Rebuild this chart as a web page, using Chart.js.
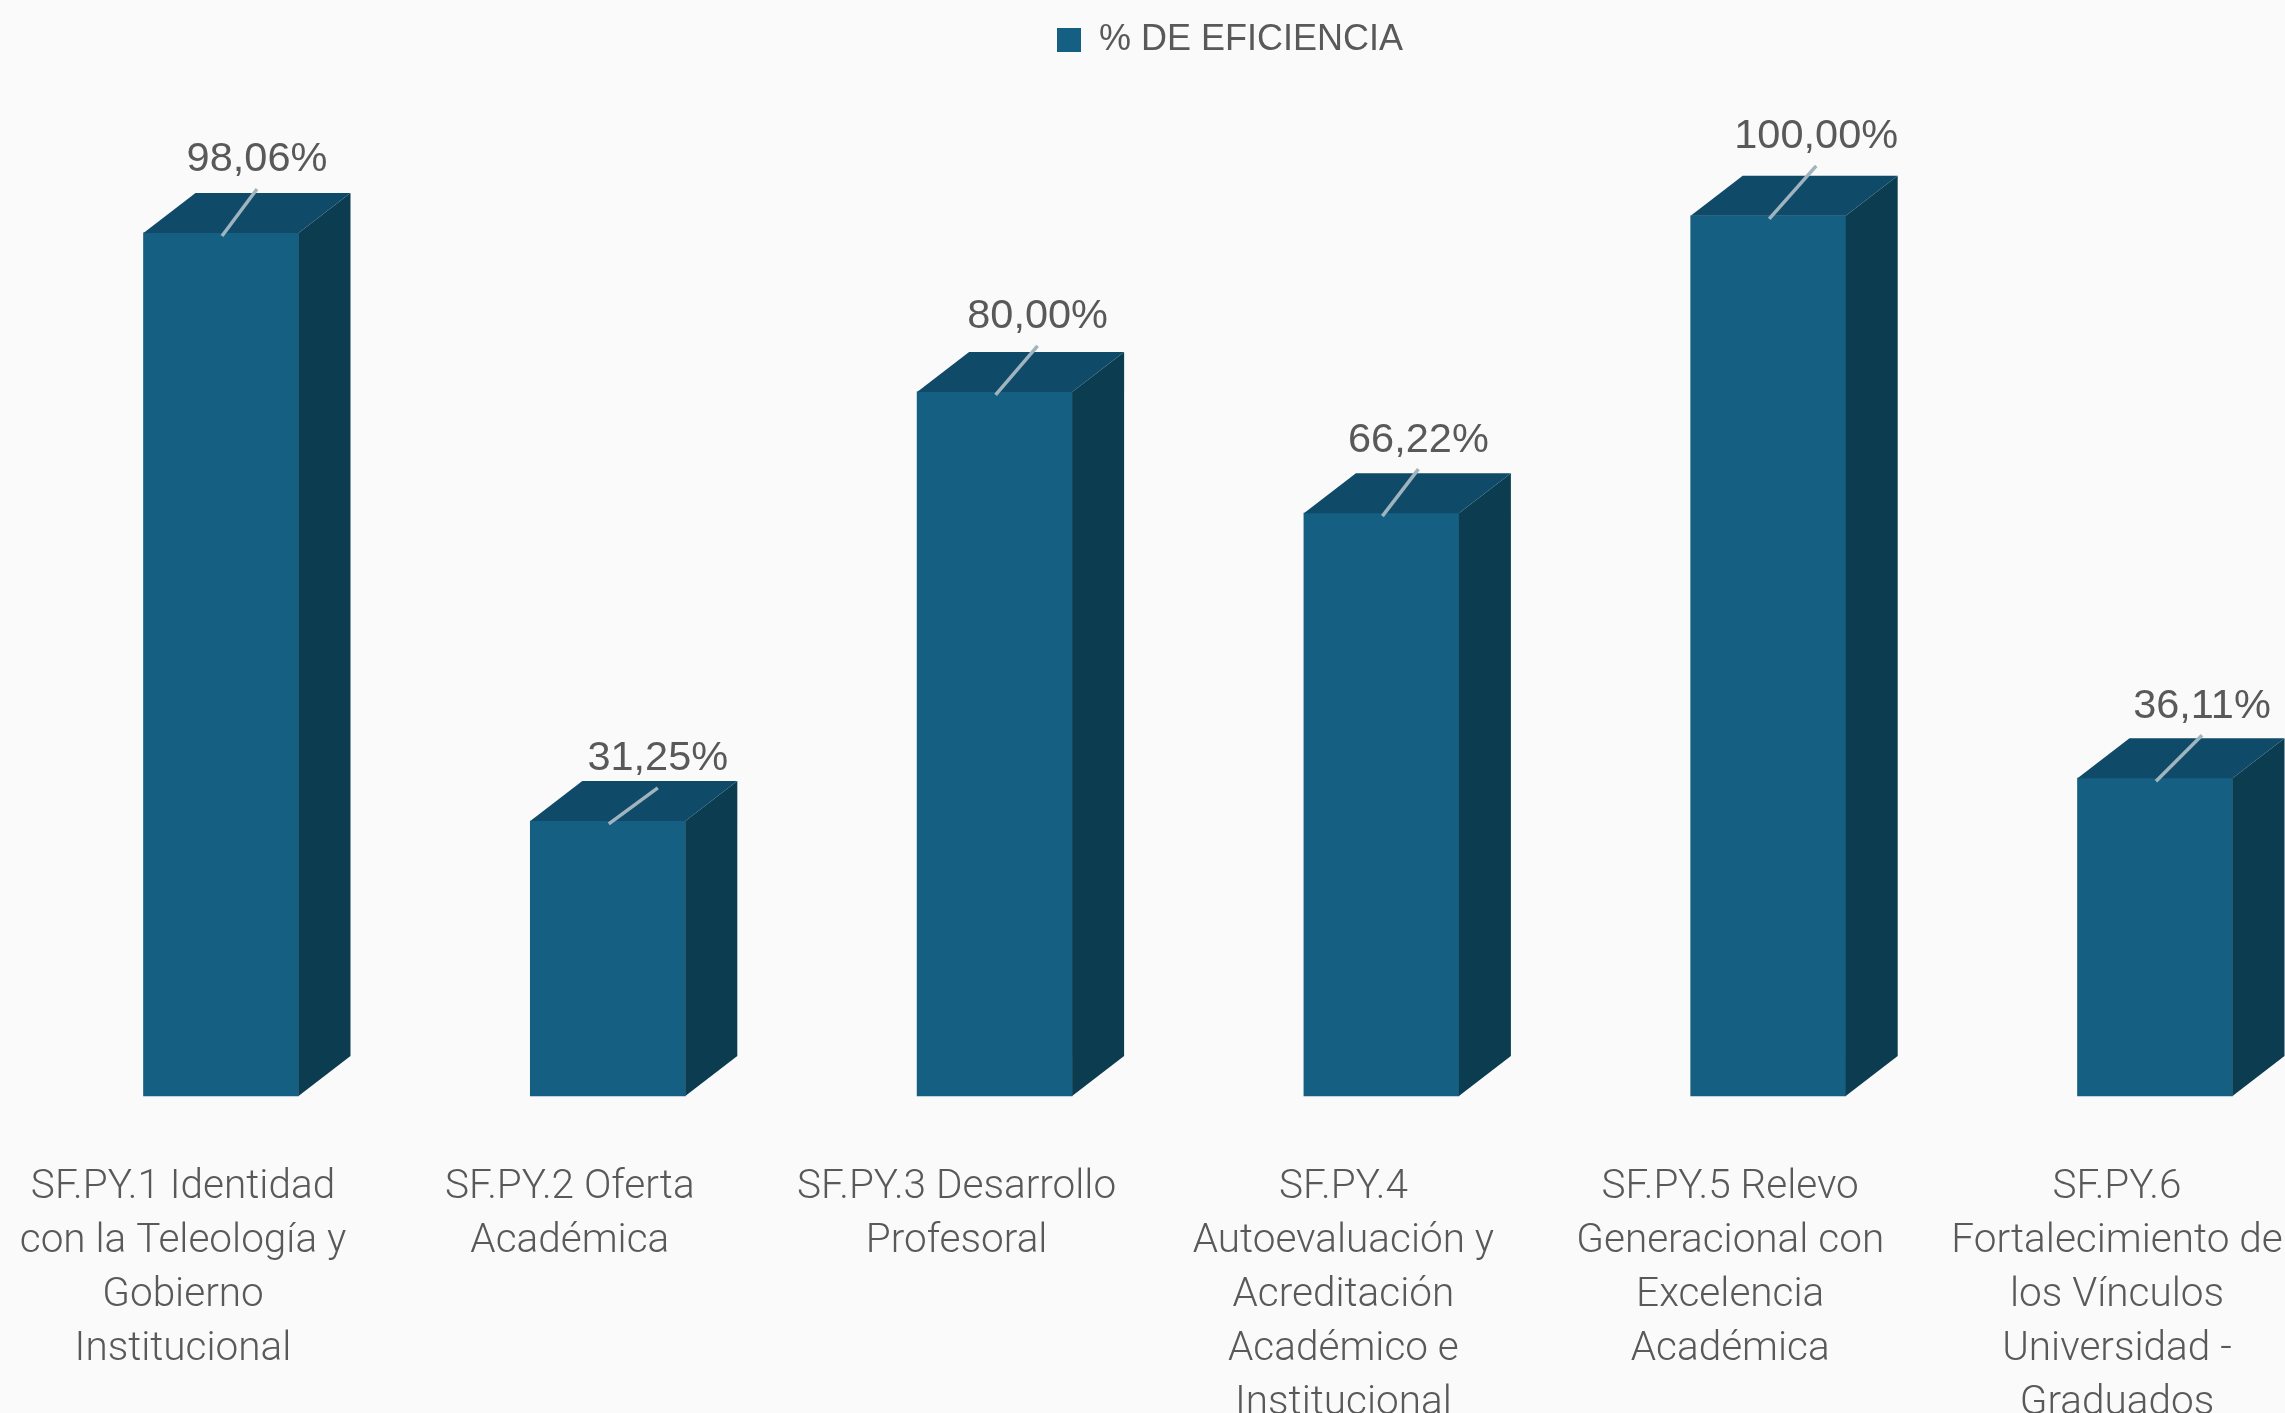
<!DOCTYPE html>
<html lang="es">
<head>
    <meta charset="UTF-8">
    <title>% de eficiencia</title>
    <script src="https://cdn.jsdelivr.net/npm/chart.js"></script>
    <style>
        html, body { margin: 0; padding: 0; background: #fafafa; overflow: hidden; }
        canvas { display: block; }
    </style>
</head>
<body>
    <canvas id="eficiencia" width="2285" height="1413"></canvas>

<script type="text/javascript">
    const categories = [
        ['SF.PY.1 Identidad', 'con la Teleología y', 'Gobierno', 'Institucional'],
        ['SF.PY.2 Oferta', 'Académica'],
        ['SF.PY.3 Desarrollo', 'Profesoral'],
        ['SF.PY.4', 'Autoevaluación y', 'Acreditación', 'Académico e', 'Institucional'],
        ['SF.PY.5 Relevo', 'Generacional con', 'Excelencia', 'Académica'],
        ['SF.PY.6', 'Fortalecimiento de', 'los Vínculos', 'Universidad -', 'Graduados']
    ];
    const seriesName = '% DE EFICIENCIA';
    const eficiencia = [98.06, 31.25, 80.00, 66.22, 100.00, 36.11];

    // the labels were moved by hand in the original, so each one has its own offset
    const labelDx = [36, 50, 43, 37, 48, 47];
    const labelDy = [-73, -62, -75, -73, -79, -72];

    const frontColor = '#156082';
    const topColor = '#0f4a68';
    const sideColor = '#0c3c50';
    const textColor = '#595959';
    const depthX = 52;
    const depthY = 40;

    function fillFace(ctx, pts, color) {
        ctx.fillStyle = color;
        ctx.beginPath();
        ctx.moveTo(pts[0][0], pts[0][1]);
        for (let i = 1; i < pts.length; i++) {
            ctx.lineTo(pts[i][0], pts[i][1]);
        }
        ctx.closePath();
        ctx.fill();
    }

    // side and top faces, leader lines and value labels
    const boxes3d = {
        id: 'boxes3d',
        afterDatasetsDraw(chart) {
            const ctx = chart.ctx;
            ctx.save();
            chart.getDatasetMeta(0).data.forEach((bar, i) => {
                const left = bar.x - bar.width / 2;
                const right = bar.x + bar.width / 2;
                fillFace(ctx, [[right, bar.y], [right + depthX, bar.y - depthY],
                    [right + depthX, bar.base - depthY], [right, bar.base]], sideColor);
                fillFace(ctx, [[left, bar.y], [left + depthX, bar.y - depthY],
                    [right + depthX, bar.y - depthY], [right, bar.y]], topColor);

                ctx.strokeStyle = '#9fb4be';
                ctx.lineWidth = 3.5;
                ctx.beginPath();
                ctx.moveTo(bar.x + 1, bar.y + 3);
                ctx.lineTo(bar.x + labelDx[i], bar.y + labelDy[i] + 29);
                ctx.stroke();

                ctx.fillStyle = textColor;
                ctx.font = '41.5px "Liberation Sans"';
                ctx.textAlign = 'center';
                ctx.textBaseline = 'middle';
                const txt = eficiencia[i].toFixed(2).replace('.', ',') + '%';
                ctx.fillText(txt, bar.x + labelDx[i], bar.y + labelDy[i]);
            });
            ctx.restore();
        },
        afterLayout(chart) {
            // legend sits right of centre in the original
            chart.legend.left += 42;
            chart.legend.right += 42;
        }
    };

    new Chart(document.getElementById('eficiencia').getContext('2d'), {
        type: 'bar',
        data: {
            labels: categories,
            datasets: [{
                label: seriesName,
                data: eficiencia,
                backgroundColor: frontColor,
                borderWidth: 0,
                barThickness: 155,
                clip: false
            }]
        },
        options: {
            responsive: false,
            animation: false,
            layout: { padding: { left: 221, right: 130 } },
            plugins: {
                legend: {
                    position: 'top',
                    labels: {
                        boxWidth: 24,
                        boxHeight: 24,
                        padding: 22,
                        color: textColor,
                        font: { family: '"Liberation Sans"', size: 36 }
                    }
                },
                tooltip: { enabled: false }
            },
            scales: {
                x: {
                    offset: false,
                    grid: { display: false },
                    border: { display: false },
                    afterFit(scale) {
                        scale.paddingLeft = 0;
                        scale.paddingRight = 0;
                        scale.height = 317;
                    },
                    ticks: {
                        autoSkip: false,
                        maxRotation: 0,
                        minRotation: 0,
                        labelOffset: -38,
                        padding: 57,
                        color: textColor,
                        font: { family: 'Roboto', size: 40.5, weight: '300', lineHeight: 54 / 40.5 }
                    }
                },
                y: {
                    display: false,
                    min: 0,
                    max: 116.8
                }
            }
        },
        plugins: [boxes3d]
    });
</script>
</body>
</html>
